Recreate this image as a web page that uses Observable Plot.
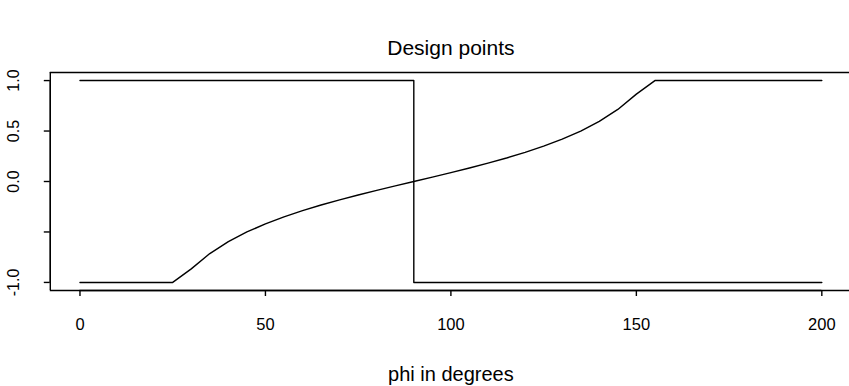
<!DOCTYPE html>
<html>
<head>
<meta charset="utf-8">
<script src="https://cdn.jsdelivr.net/npm/d3@7"></script>
<script src="https://cdn.jsdelivr.net/npm/@observablehq/plot@0.6"></script>
<style>
  body { margin: 0; background: #fff; }
  #chart svg { font-family: "Liberation Sans", Arial, Helvetica, sans-serif; }
</style>
</head>
<body>
<div id="chart"></div>
<script>
// Design angle phi (degrees), sampled every 5 degrees
const phi = [0, 5, 10, 15, 20, 25, 30, 35, 40, 45, 50, 55, 60, 65, 70, 75, 80, 85, 90,
             95, 100, 105, 110, 115, 120, 125, 130, 135, 140, 145, 150, 155, 160, 165, 170,
             175, 180, 185, 190, 195, 200];
// Smooth design curve, clipped to [-1, 1]
const smoothValue = [-1, -1, -1, -1, -1, -1, -0.866, -0.714, -0.596, -0.5, -0.42, -0.35, -0.289,
                     -0.233, -0.182, -0.134, -0.088, -0.044, 0,
                     0.044, 0.088, 0.134, 0.182, 0.233, 0.289, 0.35, 0.42, 0.5, 0.596, 0.714,
                     0.866, 1, 1, 1, 1, 1, 1, 1, 1, 1, 1];
// Switching design: +1 up to 90 degrees, -1 after
const stepPhi = [0, 90, 90, 200];
const stepValue = [1, 1, -1, -1];

const xTicks = [0, 50, 100, 150, 200];
const yTicks = [-1, -0.5, 0, 0.5, 1];
const yTickLabels = ["-1.0", "", "0.0", "0.5", "1.0"];
const titleText = "Design points";
const xLabelText = "phi in degrees";

const curve = phi.map((p, i) => ({phi: p, value: smoothValue[i]}));
const step = stepPhi.map((p, i) => ({phi: p, value: stepValue[i]}));

// R-style 4% padding around the data range
const xDomain = [-8, 208];
const yDomain = [-1.08, 1.08];
const ink = "#000";
const lw = 1.4;

const chart = Plot.plot({
  width: 849,
  height: 386,
  marginLeft: 49.8,
  marginRight: -2,
  marginTop: 72,
  marginBottom: 96,
  x: {domain: xDomain},
  y: {domain: yDomain},
  style: {background: "#fff", color: ink, fontSize: "16px"},
  marks: [
    // plot box (left, top, bottom edges)
    Plot.ruleX([xDomain[0]], {y1: yDomain[0], y2: yDomain[1], stroke: ink, strokeWidth: lw}),
    Plot.ruleY(yDomain, {x1: xDomain[0], x2: xDomain[1], stroke: ink, strokeWidth: lw}),
    // axis lines spanning first to last tick
    Plot.ruleY([yDomain[0]], {x1: xTicks[0], x2: xTicks[xTicks.length - 1], stroke: ink, strokeWidth: lw}),
    Plot.ruleX([xDomain[0]], {y1: yTicks[0], y2: yTicks[yTicks.length - 1], stroke: ink, strokeWidth: lw}),
    Plot.axisX({
      ticks: xTicks, tickFormat: d => String(d), tickSize: 6, tickPadding: 22,
      fontSize: 16.5, label: null, stroke: ink, strokeWidth: lw
    }),
    Plot.axisY({
      ticks: yTicks, tickFormat: d => yTickLabels[yTicks.indexOf(d)],
      tickSize: 6, tickPadding: 25, tickRotate: -90,
      textAnchor: "middle", lineAnchor: "bottom",
      fontSize: 16, label: null, stroke: ink, strokeWidth: lw
    }),
    Plot.line(step, {x: "phi", y: "value", stroke: ink, strokeWidth: lw}),
    Plot.line(curve, {x: "phi", y: "value", stroke: ink, strokeWidth: lw}),
    Plot.text([titleText], {frameAnchor: "top", dy: -32, fontSize: 21, fill: ink}),
    Plot.text([xLabelText], {frameAnchor: "bottom", dy: 90, fontSize: 20, fill: ink})
  ]
});

document.getElementById("chart").append(chart);
</script>
</body>
</html>
